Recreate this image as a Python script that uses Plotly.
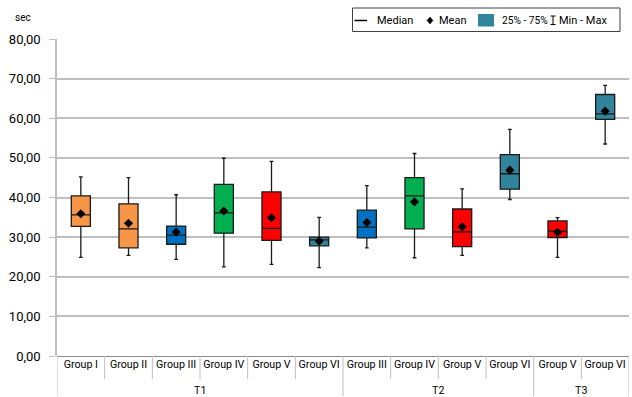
import plotly.graph_objects as go

# ---- data ----
periods = ["T1"] * 6 + ["T2"] * 4 + ["T3"] * 2
groups = ["Group I", "Group II", "Group III", "Group IV", "Group V", "Group VI",
          "Group III", "Group IV", "Group V", "Group VI",
          "Group V", "Group VI"]
mins    = [24.9, 25.4, 24.4, 22.5, 23.1, 22.3, 27.3, 24.8, 25.4, 39.5, 24.9, 53.5]
q1s     = [32.7, 27.3, 28.2, 31.0, 29.2, 27.8, 29.8, 32.1, 27.6, 42.1, 29.9, 59.7]
medians = [35.6, 32.1, 30.5, 36.1, 32.2, 29.3, 32.5, 40.4, 31.3, 46.0, 31.5, 61.1]
q3s     = [40.4, 38.4, 32.8, 43.3, 41.4, 30.0, 36.8, 45.0, 37.1, 50.8, 34.1, 66.0]
maxs    = [45.2, 45.0, 40.7, 49.9, 49.1, 35.0, 43.0, 51.1, 42.2, 57.2, 34.9, 68.3]
means   = [35.9, 33.5, 31.3, 36.6, 34.9, 29.0, 33.7, 38.9, 32.6, 46.9, 31.2, 61.8]
group_colors = {"Group I": "#F79646", "Group II": "#F79646", "Group III": "#0070C0",
                "Group IV": "#00B050", "Group V": "#FF0000", "Group VI": "#31849B"}
y_ticks = [0, 10, 20, 30, 40, 50, 60, 70, 80]

# ---- layout geometry (pixels) ----
W, H = 632, 397
L, R, T, B = 57, 3, 39, 41
PW, PH = W - L - R, H - T - B


def px(x):
    return (x - L) / PW


def py(y):
    return (H - B - y) / PH


FONT = "Roboto, Arial, sans-serif"

fig = go.Figure()
xs = list(range(len(groups)))
for i in xs:
    c = group_colors[groups[i]]
    fig.add_trace(go.Box(
        x=[i], q1=[q1s[i]], median=[medians[i]], q3=[q3s[i]],
        lowerfence=[mins[i]], upperfence=[maxs[i]],
        fillcolor=c, line=dict(color="#1a1a1a", width=1.3),
        width=0.4, whiskerwidth=0.2, showlegend=False, hoverinfo="skip"))

fig.add_trace(go.Scatter(
    x=xs, y=means, mode="markers",
    marker=dict(symbol="diamond", size=7, color="#000000"),
    showlegend=False, hoverinfo="skip"))

shapes = []
# category separators below the axis
for k in range(len(groups) + 1):
    xb = k - 0.5
    long_ = (k == 0) or (k == len(groups)) or (k < len(groups) and periods[k] != periods[k - 1])
    y1 = py(H - 1) if long_ else py(379)
    shapes.append(dict(type="line", xref="x", yref="paper", x0=xb, x1=xb, y0=0, y1=y1,
                       line=dict(color="#BFBFBF", width=1)))

# legend (manual)
shapes.append(dict(type="rect", xref="paper", yref="paper",
                   x0=px(352.5), x1=px(620), y0=py(8), y1=py(31.5),
                   line=dict(color="#404040", width=1), fillcolor="white"))
shapes.append(dict(type="line", xref="paper", yref="paper",
                   x0=px(354.5), x1=px(367), y0=py(20.5), y1=py(20.5),
                   line=dict(color="#000000", width=1.5)))
dx, dy = 430, 20.5
shapes.append(dict(type="path", xref="paper", yref="paper",
                   path=f"M {px(dx)} {py(dy-3.5)} L {px(dx+3)} {py(dy)} L {px(dx)} {py(dy+3.5)} L {px(dx-3)} {py(dy)} Z",
                   fillcolor="#000000", line=dict(color="#000000", width=0.5)))
shapes.append(dict(type="rect", xref="paper", yref="paper",
                   x0=px(478), x1=px(494), y0=py(14), y1=py(26.5),
                   fillcolor="#31859C", line=dict(width=0)))
shapes.append(dict(type="line", xref="paper", yref="paper",
                   x0=px(553), x1=px(553), y0=py(16), y1=py(24.5),
                   line=dict(color="#000000", width=1)))
for yy in (16, 24.5):
    shapes.append(dict(type="line", xref="paper", yref="paper",
                       x0=px(550.5), x1=px(555.5), y0=py(yy), y1=py(yy),
                       line=dict(color="#000000", width=1)))

annotations = []
for txt, x0, fs in [("Median", 375.5, 11), ("Mean", 436.5, 11),
                    ("25% - 75%", 499.5, 10.2), ("Min - Max", 557, 11)]:
    annotations.append(dict(text=txt, xref="paper", yref="paper", x=px(x0), y=py(20.5),
                            xanchor="left", yanchor="middle", showarrow=False,
                            font=dict(family=FONT, size=fs, color="#000000")))
# period labels
for p in ["T1", "T2", "T3"]:
    idx = [i for i, v in enumerate(periods) if v == p]
    annotations.append(dict(text=p, xref="x", yref="paper", x=(idx[0] + idx[-1]) / 2, y=py(390),
                            xanchor="center", yanchor="middle", showarrow=False,
                            font=dict(family=FONT, size=10.7, color="#000000")))
annotations.append(dict(text="sec", xref="paper", yref="paper", x=px(22.5), y=py(18),
                        xanchor="center", yanchor="middle", showarrow=False,
                        font=dict(family=FONT, size=10, color="#000000")))

fig.update_layout(
    width=W, height=H, margin=dict(l=L, r=R, t=T, b=B),
    paper_bgcolor="white", plot_bgcolor="white",
    separators=", ",
    showlegend=False,
    shapes=shapes, annotations=annotations,
    xaxis=dict(range=[-0.5, len(groups) - 0.5], tickvals=xs, ticktext=groups,
               showgrid=False, zeroline=False, showline=False, ticks="",
               tickfont=dict(family=FONT, size=10.7, color="#000000"), fixedrange=True),
    yaxis=dict(range=[0, 80], tickvals=y_ticks, tickformat=".2f",
               showgrid=True, gridcolor="#BFBFBF", gridwidth=1.5,
               zeroline=True, zerolinecolor="#8C8C8C", zerolinewidth=1,
               showline=True, linecolor="#BFBFBF", linewidth=1.5,
               ticks="outside", ticklen=6, tickcolor="#BFBFBF", tickwidth=1,
               ticklabelstandoff=6,
               tickfont=dict(family=FONT, size=13, color="#000000"), fixedrange=True),
)

fig.write_html("out.html")
